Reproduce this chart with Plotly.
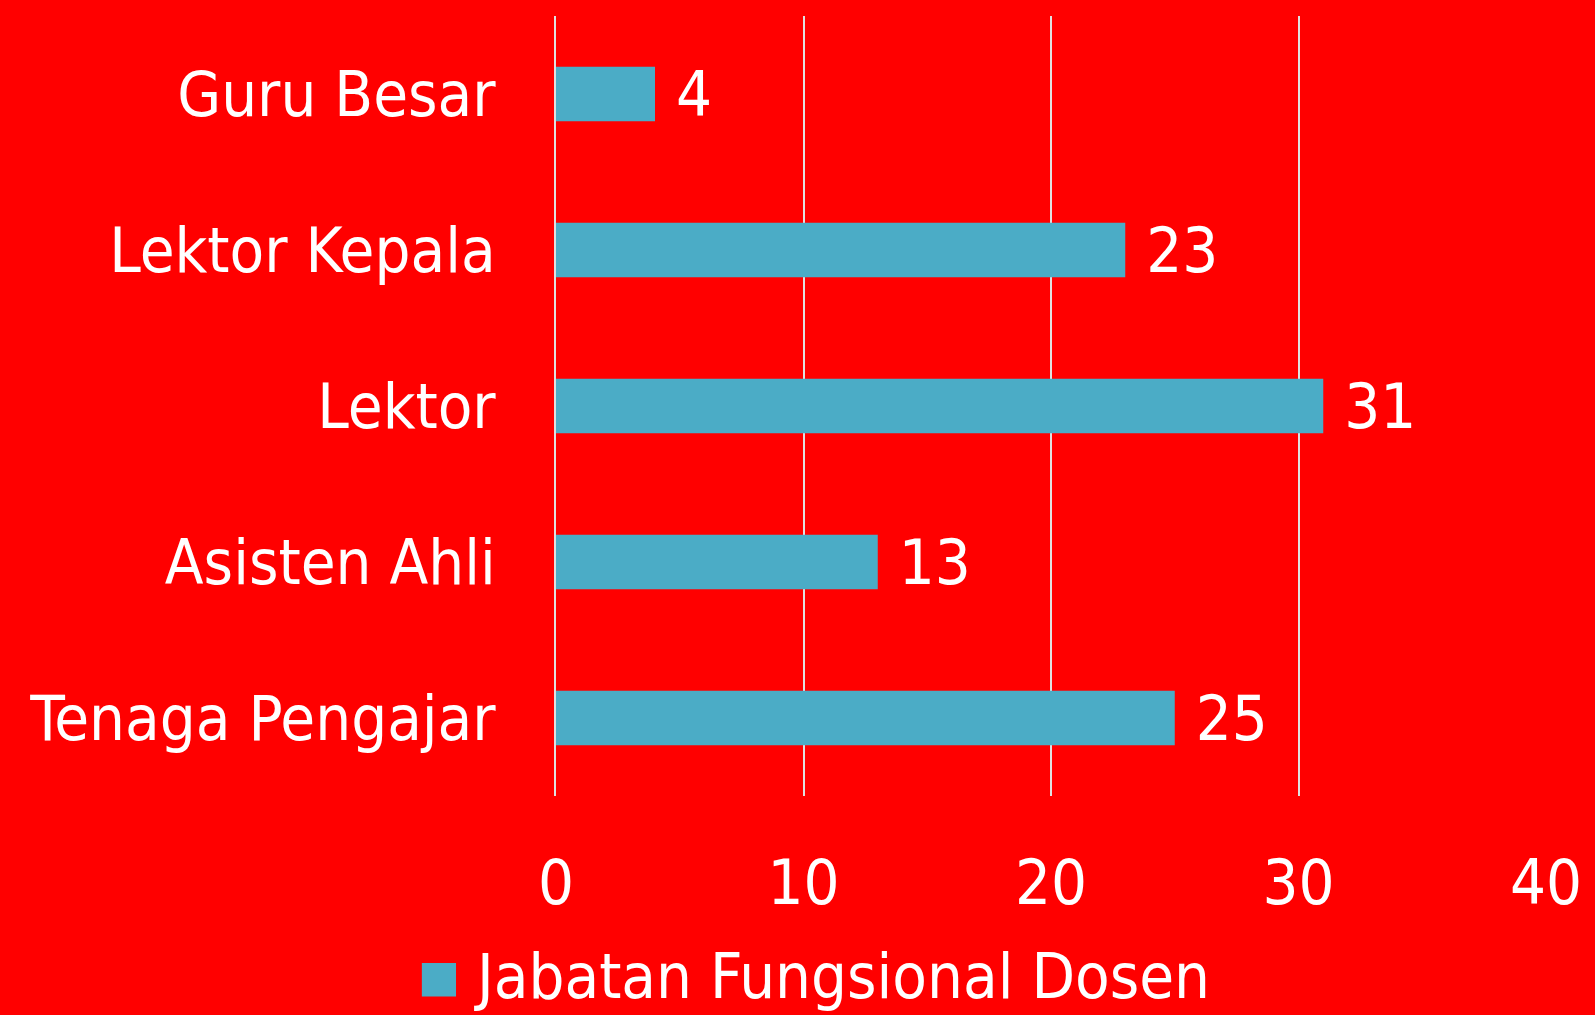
import plotly.graph_objects as go

# data
categories = ["Guru Besar", "Lektor Kepala", "Lektor", "Asisten Ahli", "Tenaga Pengajar"]
values = [4, 23, 31, 13, 25]
series_name = "Jabatan Fungsional Dosen"

FONT = "Tahoma, 'DejaVu Sans Condensed', 'Noto Sans', sans-serif"
BG = "#FF0000"
BAR = "#4BACC6"
GRID = "#E0E0E0"

fig = go.Figure()
fig.add_trace(go.Bar(
    y=categories,
    x=values,
    orientation="h",
    name=series_name,
    marker=dict(color=BAR, line=dict(width=0)),
    text=values,
    texttemplate=" %{x}",
    textposition="outside",
    constraintext="none",
    textfont=dict(color="white", size=63, family=FONT),
    cliponaxis=False,
    showlegend=False,
))

# legend drawn by hand so the swatch can be as big as in the original
fig.add_shape(type="rect", xref="paper", yref="paper",
              x0=-0.1355, x1=-0.101, y0=-0.214, y1=-0.257,
              fillcolor=BAR, line=dict(width=0))
fig.add_annotation(text=series_name, xref="paper", yref="paper",
                   x=-0.085, y=-0.231, xanchor="left", yanchor="middle",
                   showarrow=False, font=dict(size=63, color="white", family=FONT))

fig.update_layout(
    width=1595, height=1015,
    paper_bgcolor=BG, plot_bgcolor=BG,
    margin=dict(l=556, r=49, t=16, b=219),
    bargap=0.65,
    font=dict(family=FONT, color="white", size=63),
    xaxis=dict(range=[0, 40], dtick=10, showgrid=True, gridcolor=GRID, gridwidth=1.5,
               zeroline=False, showline=False, ticks="", ticklabelstandoff=44,
               tickfont=dict(size=63, color="white")),
    yaxis=dict(autorange="reversed", showgrid=False, showline=True, linecolor=GRID,
               linewidth=1.5, ticks="", ticklabelstandoff=46, automargin=False,
               tickfont=dict(size=63, color="white")),
)

fig.write_html("out.html", config={"displayModeBar": False},
               post_script="document.body.style.margin='0';document.body.style.background='#FF0000';")
